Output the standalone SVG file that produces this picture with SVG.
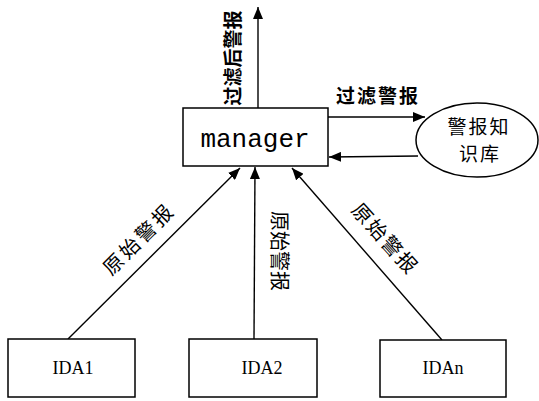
<svg xmlns="http://www.w3.org/2000/svg" width="539" height="401" viewBox="0 0 539 401">
<style>
.box{fill:#fff;stroke:#000;stroke-width:1.5}
.ln{stroke:#000;stroke-width:1.4;fill:none;marker-end:url(#ah)}
.cjk{font-family:"Noto Sans CJK SC","Noto Sans",sans-serif;fill:#000;text-anchor:middle;dominant-baseline:central}
.mono{font-family:"Liberation Mono",monospace;fill:#000;text-anchor:middle}
.ser{font-family:"Liberation Serif",serif;fill:#000;text-anchor:middle}
</style>
<defs>
<marker id="ah" viewBox="0 0 12 10" refX="12" refY="5" markerWidth="12" markerHeight="10" markerUnits="userSpaceOnUse" orient="auto">
<path d="M0,0 L12,5 L0,10 Z" fill="#000"/>
</marker>
</defs>
<rect width="539" height="401" fill="#fff"/>
<g id="connectors">
<line class="ln" x1="258" y1="108" x2="258" y2="7"/>
<line class="ln" x1="328" y1="117" x2="425" y2="117"/>
<line class="ln" x1="418" y1="156" x2="329" y2="157"/>
<line class="ln" x1="68" y1="339" x2="240" y2="168"/>
<line class="ln" x1="254" y1="339" x2="255" y2="167"/>
<line class="ln" x1="442" y1="340" x2="292" y2="168"/>
<text class="cjk" font-size="19" font-weight="bold" transform="translate(231,58) rotate(-90)">过滤后警报</text>
<text class="cjk" font-size="19" font-weight="bold" letter-spacing="2" x="378" y="94">过滤警报</text>
<text class="cjk" font-size="20" letter-spacing="3" transform="translate(138,238) rotate(-45)">原始警报</text>
<text class="cjk" font-size="20" transform="translate(280,251) rotate(90)">原始警报</text>
<text class="cjk" font-size="20" letter-spacing="2" transform="translate(386,238) rotate(48)">原始警报</text>
</g>
<g id="manager">
<rect class="box" x="183" y="108" width="145" height="58"/>
<text class="mono" font-size="26" x="255" y="147">manager</text>
</g>
<g id="kb">
<ellipse cx="477" cy="140" rx="61" ry="37" fill="#fff" stroke="#000" stroke-width="1.5"/>
<text class="cjk" font-size="19" letter-spacing="2" x="479" y="125">警报知</text>
<text class="cjk" font-size="19" letter-spacing="2" x="480" y="152">识库</text>
</g>
<g id="ida1">
<rect class="box" x="8" y="339" width="127" height="58"/>
<text class="ser" font-size="18" x="73" y="374">IDA1</text>
</g>
<g id="ida2">
<rect class="box" x="189" y="339" width="128" height="58"/>
<text class="ser" font-size="18" x="262" y="374">IDA2</text>
</g>
<g id="idan">
<rect class="box" x="380" y="340" width="126" height="57"/>
<text class="ser" font-size="18" x="443" y="374">IDAn</text>
</g>
</svg>
